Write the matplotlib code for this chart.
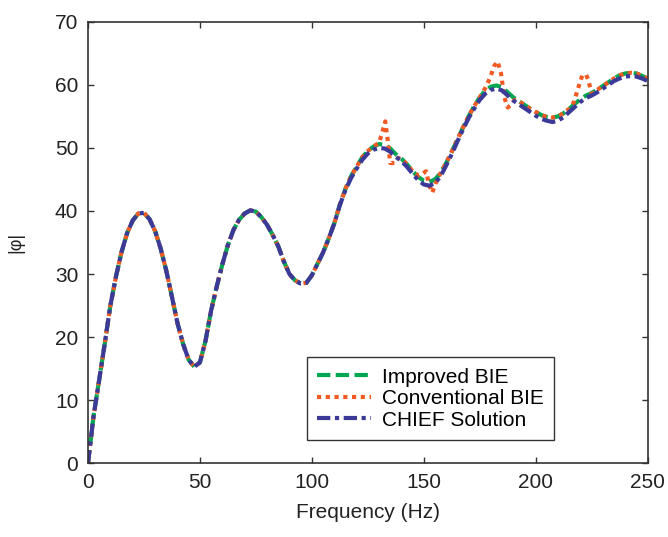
import matplotlib
matplotlib.use('Agg')

import matplotlib.pyplot as plt

# frequency grid shared by the improved BIE and CHIEF curves
freq = [
    0, 2.5, 5, 7.5, 10, 12.5, 15, 17.5, 20, 22.5,
    25, 27.5, 30, 32.5, 35, 37.5, 40, 42.5, 45, 47.5,
    50, 52.5, 55, 57.5, 60, 62.5, 65, 67.5, 70, 72.5,
    75, 77.5, 80, 82.5, 85, 87.5, 90, 92.5, 95, 97.5,
    100, 102.5, 105, 107.5, 110, 112.5, 115, 117.5, 120, 122.5,
    125, 127.5, 130, 132.5, 135, 137.5, 140, 142.5, 145, 147.5,
    150, 152.5, 155, 157.5, 160, 162.5, 165, 167.5, 170, 172.5,
    175, 177.5, 180, 182.5, 185, 187.5, 190, 192.5, 195, 197.5,
    200, 202.5, 205, 207.5, 210, 212.5, 215, 217.5, 220, 222.5,
    225, 227.5, 230, 232.5, 235, 237.5, 240, 242.5, 245, 247.5,
    250,
]

improved_bie = [
    0.0, 7.5, 13.2, 19.0, 25.0, 29.6, 33.5, 36.5, 38.5, 39.6,
    39.7, 38.7, 36.8, 34.0, 30.5, 26.4, 22.2, 18.9, 16.4, 15.3,
    16.0, 19.4, 24.2, 28.0, 31.5, 34.6, 37.0, 38.6, 39.6, 40.1,
    39.9, 39.0, 37.8, 36.2, 34.4, 32.0, 30.0, 29.0, 28.5, 28.6,
    29.8, 31.6, 33.4, 35.6, 38.0, 41.0, 43.5, 45.5, 47.0, 48.5,
    49.5, 50.2, 50.6, 50.5, 49.9, 49.0, 48.3, 47.4, 46.3, 45.4,
    44.8, 44.6, 45.0, 46.0, 47.6, 49.4, 51.3, 53.2, 55.0, 56.6,
    58.0, 59.1, 59.7, 59.9, 59.6, 58.8, 58.0, 57.4, 56.8, 56.2,
    55.7, 55.2, 54.9, 54.8, 55.0, 55.5, 56.2, 57.0, 57.7, 58.3,
    58.7, 59.2, 59.8, 60.4, 61.0, 61.5, 61.8, 61.9, 61.8, 61.4,
    61.0,
]

chief = [
    0.0, 7.5, 13.2, 19.0, 25.0, 29.6, 33.5, 36.5, 38.5, 39.6,
    39.7, 38.7, 36.8, 34.0, 30.5, 26.4, 22.2, 18.9, 16.4, 15.3,
    16.0, 19.4, 24.2, 28.0, 31.5, 34.6, 37.0, 38.6, 39.6, 40.1,
    39.9, 39.0, 37.8, 36.2, 34.4, 32.0, 30.0, 29.0, 28.5, 28.6,
    29.8, 31.6, 33.4, 35.6, 38.0, 40.9, 43.3, 45.2, 46.7, 48.1,
    49.1, 49.7, 50.0, 49.9, 49.4, 48.6, 47.9, 47.0, 45.9, 44.9,
    44.2, 44.0, 44.4, 45.5, 47.2, 49.0, 51.0, 52.9, 54.7, 56.2,
    57.6, 58.6, 59.2, 59.4, 59.1, 58.3, 57.5, 56.9, 56.3, 55.7,
    55.1, 54.6, 54.3, 54.1, 54.3, 54.9, 55.7, 56.5, 57.3, 57.9,
    58.3, 58.8, 59.4, 60.0, 60.6, 61.0, 61.3, 61.4, 61.3, 61.0,
    60.6,
]

# conventional BIE has its own grid, denser around the fictitious-frequency spikes
conv_freq = [
    0, 2.5, 5, 7.5, 10, 12.5, 15, 17.5, 20, 22.5,
    25, 27.5, 30, 32.5, 35, 37.5, 40, 42.5, 45, 47.5,
    50, 52.5, 55, 57.5, 60, 62.5, 65, 67.5, 70, 72.5,
    75, 77.5, 80, 82.5, 85, 87.5, 90, 92.5, 95, 97.5,
    100, 102.5, 105, 107.5, 110, 112.5, 115, 117.5, 120, 122.5,
    125, 127.5, 130, 131.5, 132.8, 133.8, 135, 137, 138.5, 140,
    142.5, 145, 147.5, 149.5, 151, 152.5, 153.8, 155.2, 157.5, 160,
    162.5, 165, 167.5, 170, 172.5, 175, 177.5, 179.5, 181.5, 183,
    184.5, 186, 187.5, 189, 190.5, 192.5, 195, 197.5, 200, 202.5,
    205, 207.5, 210, 212.5, 215, 217, 219, 220.8, 222.5, 223.5,
    224.8, 226, 227.5, 230, 232.5, 235, 237.5, 240, 242.5, 245,
    247.5, 250,
]

conventional_bie = [
    0.0, 7.5, 13.2, 19.0, 25.0, 29.6, 33.5, 36.5, 38.5, 39.6,
    39.7, 38.7, 36.8, 34.0, 30.5, 26.4, 22.2, 18.9, 16.4, 15.3,
    16.0, 19.4, 24.2, 28.0, 31.5, 34.6, 37.0, 38.6, 39.6, 40.1,
    39.9, 39.0, 37.8, 36.2, 34.4, 32.0, 30.0, 29.0, 28.5, 28.6,
    29.8, 31.6, 33.4, 35.6, 38.0, 41.0, 43.5, 45.5, 47.0, 48.5,
    49.5, 50.2, 50.8, 52.5, 54.2, 51.5, 47.6, 47.6, 48.4, 48.3,
    47.4, 46.3, 45.6, 45.9, 46.3, 44.0, 42.9, 44.3, 46.0, 47.6,
    49.4, 51.3, 53.2, 55.0, 56.6, 58.0, 59.5, 61.0, 63.0, 63.7,
    61.8, 58.0, 56.4, 56.8, 57.6, 57.4, 56.8, 56.2, 55.7, 55.2,
    54.9, 54.8, 55.0, 55.5, 56.2, 57.2, 59.5, 61.5, 61.6, 60.8,
    58.8, 58.6, 59.2, 59.8, 60.4, 61.0, 61.5, 61.8, 61.9, 61.8,
    61.4, 61.0,
]

GREEN = '#00a651'
ORANGE = '#f15a22'
BLUE = '#3b3a98'

plt.rcParams['font.family'] = ['Liberation Sans', 'DejaVu Sans']

fig = plt.figure(figsize=(6.68, 5.37), dpi=100)
ax = fig.add_axes([0.1317, 0.1372, 0.8378, 0.8224])

ax.plot(freq, improved_bie, color=GREEN, linewidth=3.0,
        dashes=(3.2, 1.3), label='Improved BIE')
ax.plot(conv_freq, conventional_bie, color=ORANGE, linewidth=3.0,
        dashes=(1.0, 1.1), label='Conventional BIE')
ax.plot(freq, chief, color=BLUE, linewidth=3.0,
        dashes=(3.2, 1.1, 1.0, 1.1), label='CHIEF Solution')

ax.set_xlim(0, 250)
ax.set_ylim(0, 70)
ax.set_xticks([0, 50, 100, 150, 200, 250])
ax.set_yticks([0, 10, 20, 30, 40, 50, 60, 70])

ax.set_xlabel('Frequency (Hz)', fontsize=15, color='#222222', labelpad=8)
ax.set_ylabel('|φ|', fontsize=13, color='#222222', labelpad=22)

ax.tick_params(direction='in', length=4.5, width=1.0, top=True, right=True,
               labelsize=15, labelcolor='#222222', color='#333333', pad=7)
for spine in ax.spines.values():
    spine.set_color('#333333')
    spine.set_linewidth(1.2)

leg = ax.legend(loc='lower left', bbox_to_anchor=(0.391, 0.053), borderaxespad=0,
                fontsize=15, frameon=True, fancybox=False, framealpha=1.0,
                edgecolor='#333333', handlelength=2.6, handletextpad=0.5,
                labelspacing=0.12, borderpad=0.5)
leg.get_frame().set_linewidth(1.0)

fig.savefig('out.png', dpi=100)
plt.close(fig)
